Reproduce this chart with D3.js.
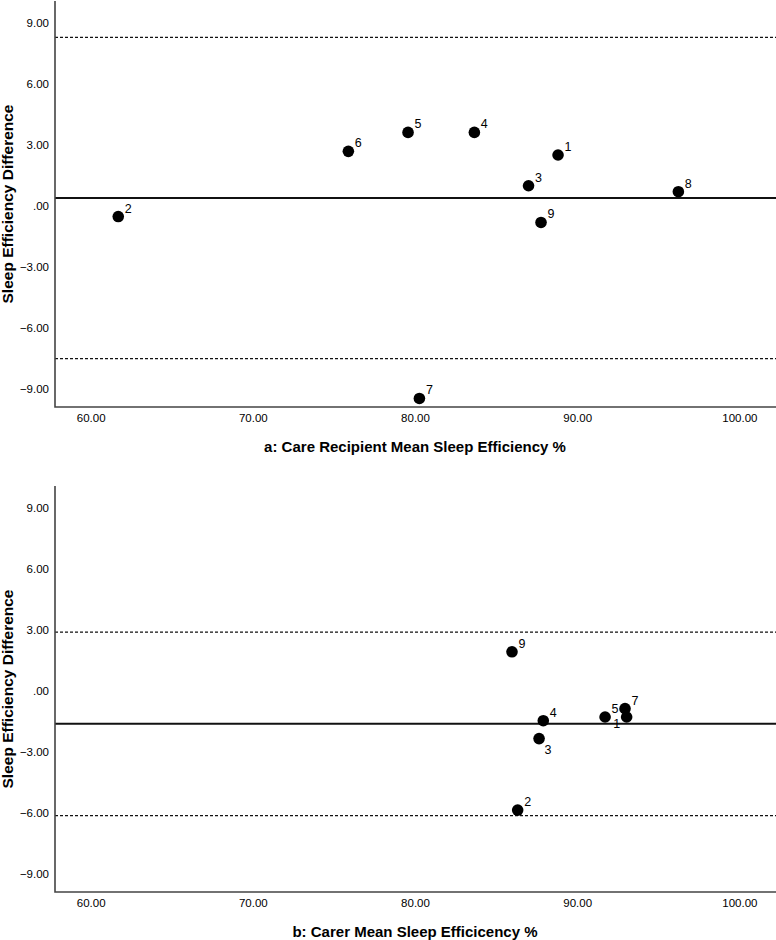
<!DOCTYPE html>
<html>
<head>
<meta charset="utf-8">
<script src="https://cdn.jsdelivr.net/npm/d3@7"></script>
<style>
  body { margin: 0; background: #fff; }
  svg text { font-family: "Liberation Sans", Arial, Helvetica, sans-serif; fill: #000; }
</style>
</head>
<body>
<div id="chart"></div>
<script>
// ---- data ----
// panel a: care recipient
var aIds = [1, 2, 3, 4, 5, 6, 7, 8, 9];
var aMean = [88.82, 61.70, 87.00, 83.66, 79.57, 75.89, 80.27, 96.24, 87.77];
var aDiff = [2.49, -0.53, 0.98, 3.60, 3.60, 2.67, -9.46, 0.69, -0.82];
var aLabelPos = ["ur", "ur", "ur", "ur", "ur", "ur", "ur", "ur", "ur"];
var aLines = [0.38, 8.26, -7.51]; // mean diff, upper limit, lower limit

// panel b: carer
var bIds = [1, 2, 3, 4, 5, 7, 9];
var bMean = [93.05, 86.33, 87.65, 87.91, 91.72, 92.95, 85.98];
var bDiff = [-1.29, -5.86, -2.35, -1.47, -1.29, -0.88, 1.91];
var bLabelPos = ["ll", "ur", "lr", "ur", "ur", "ur", "ur"];
var bLines = [-1.62, 2.88, -6.13];

var xTicks = [60, 70, 80, 90, 100];
var yTicks = [-9, -6, -3, 0, 3, 6, 9];

// ---- layout ----
var width = 776, height = 940;
var axisLeft = 55, plotRight = 776;
var xDomain = [57.8, 102.26];
var yDomain = [-9.88, 10.05];

var svg = d3.select("#chart").append("svg")
  .attr("width", width)
  .attr("height", height);

var x = d3.scaleLinear().domain(xDomain).range([axisLeft, plotRight]);

// label offsets: text start x and baseline relative to the dot centre
var labelOffset = {
  ur: [6.5, -4],
  lr: [5.5, 15],
  ll: [-13.5, 10.5]
};

function yFmt(v) {
  if (v === 0) return ".00";
  return d3.format(".2f")(v);
}

function drawPanel(top, bottom, ids, xs, ys, pos, lines, title) {
  var y = d3.scaleLinear().domain(yDomain).range([bottom, top]);
  var g = svg.append("g");

  // dashed limits and solid mean line
  lines.forEach(function(v, i) {
    g.append("line")
      .attr("x1", axisLeft).attr("x2", plotRight)
      .attr("y1", y(v)).attr("y2", y(v))
      .attr("stroke", "#111")
      .attr("stroke-width", i === 0 ? 1.8 : 1.2)
      .attr("stroke-dasharray", i === 0 ? null : "3,2");
  });

  // axes (SPSS style: no tick marks)
  var yAxis = d3.axisLeft(y).tickValues(yTicks).tickFormat(yFmt).tickSize(0).tickPadding(6);
  var gy = g.append("g").attr("transform", "translate(" + axisLeft + ",0)").call(yAxis);
  var xAxis = d3.axisBottom(x).tickValues(xTicks).tickFormat(d3.format(".2f")).tickSize(0).tickPadding(7);
  var gx = g.append("g").attr("transform", "translate(0," + bottom + ")").call(xAxis);

  [gy, gx].forEach(function(a) {
    a.select(".domain").remove();
    a.selectAll("text").attr("font-size", "11.5px")
      .attr("font-family", "'Liberation Sans', Arial, sans-serif").attr("fill", "#111");
  });

  g.append("path")
    .attr("d", "M" + axisLeft + "," + top + "V" + bottom + "H" + plotRight)
    .attr("fill", "none")
    .attr("stroke", "#444")
    .attr("stroke-width", 1.6);

  // points
  var pts = g.selectAll(".pt").data(ids).enter().append("g").attr("class", "pt");
  pts.append("circle")
    .attr("cx", function(d, i) { return x(xs[i]); })
    .attr("cy", function(d, i) { return y(ys[i]); })
    .attr("r", 5.8)
    .attr("fill", "#000");
  pts.append("text")
    .attr("x", function(d, i) { return x(xs[i]) + labelOffset[pos[i]][0]; })
    .attr("y", function(d, i) { return y(ys[i]) + labelOffset[pos[i]][1]; })
    .attr("font-size", "12.5px")
    .text(function(d) { return d; });

  // axis titles
  g.append("text")
    .attr("x", 415)
    .attr("y", bottom + 45)
    .attr("text-anchor", "middle")
    .attr("font-size", "15px")
    .attr("font-weight", "bold")
    .text(title);

  g.append("text")
    .attr("transform", "translate(13," + ((top + bottom) / 2) + ")rotate(-90)")
    .attr("text-anchor", "middle")
    .attr("font-size", "15.5px")
    .attr("font-weight", "bold")
    .text("Sleep Efficiency Difference");
}

drawPanel(1, 407, aIds, aMean, aDiff, aLabelPos, aLines, "a: Care Recipient Mean Sleep Efficiency %");
drawPanel(486, 892, bIds, bMean, bDiff, bLabelPos, bLines, "b: Carer Mean Sleep Efficicency %");
</script>
</body>
</html>
